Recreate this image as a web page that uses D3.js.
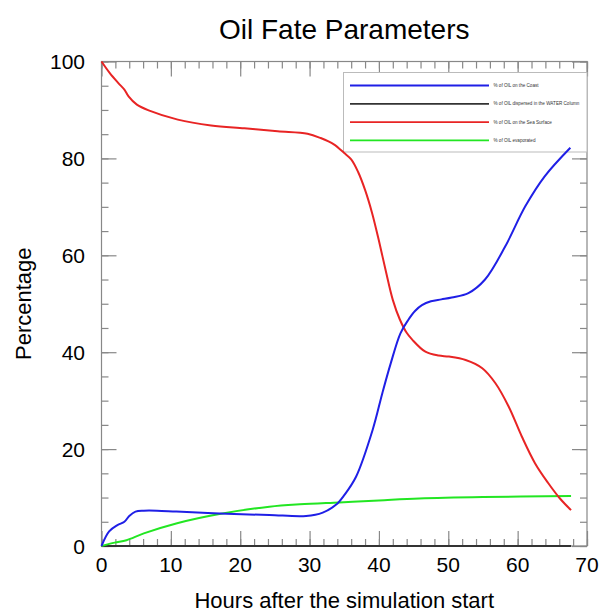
<!DOCTYPE html>
<html>
<head>
<meta charset="utf-8">
<script src="https://cdn.jsdelivr.net/npm/d3@7"></script>
<style>
  body { margin: 0; background: #fff; }
  text { font-family: "Liberation Sans", Arial, sans-serif; }
</style>
</head>
<body>
<div id="chart"></div>
<script>
// series: [hours, percent]
var coastData = [[0,0],[1.1,3.0],[2.3,4.3],[3.3,5.0],[4.0,6.2],[4.9,7.1],[6.1,7.3],[8,7.3],[10.8,7.1],
  [17,6.7],[24.2,6.4],[29.5,6.2],[31.9,6.9],[33.8,8.5],[35,10.5],[36.7,14.3],[39.1,24],[40.5,31.6],
  [41.7,37.7],[43.1,43.9],[44.2,46.6],[45.2,48.5],[46.2,49.7],[47.5,50.5],[49,50.9],[50.5,51.3],
  [52.9,52.2],[55.3,55],[58.2,61.8],[61.1,70.1],[63.9,76.3],[67.6,82.2]];
var waterData = [[0,0],[67.7,0]];
var surfaceData = [[0,100],[1.2,97.6],[2.4,95.6],[3.3,94.2],[3.9,92.8],[5.1,91.1],[6.8,89.9],[11,88],
  [15.8,86.8],[20.6,86.2],[25.4,85.6],[29.7,85.1],[31.6,84.2],[33.5,82.9],[35,81.1],[36,79.8],
  [37,77.2],[38,73.5],[39,68.8],[40,63],[41,56.7],[42,50.8],[43,46.8],[44,44],[44.8,42.6],[46.7,40.1],
  [48.6,39.3],[50.1,39.1],[52.5,38.4],[54.9,36.7],[56.8,33.6],[58.7,28.8],[60.6,22.6],[62.5,17.1],
  [64.4,13],[66.1,9.8],[67.7,7.4]];
var evapData = [[0,0],[1.9,0.7],[3.6,1.2],[6.1,2.6],[10.9,4.7],[17,6.6],[24.2,8.1],[28.6,8.6],
  [34.3,9.0],[40,9.4],[45.8,9.8],[55,10.1],[67.7,10.3]];

var seriesNames = ["% of OIL on the Coast", "% of OIL dispersed in the WATER Column",
  "% of OIL on the Sea Surface", "% of OIL evaporated"];
var seriesColors = ["#1f1fe6", "#333333", "#e82424", "#22e622"];
var xTicks = [0,10,20,30,40,50,60,70];
var yTicks = [0,20,40,60,80,100];

var W = 606, H = 614;
var pLeft = 101.5, pRight = 587, pTop = 61.5, pBottom = 546;

var svg = d3.select("#chart").append("svg").attr("width", W).attr("height", H);

var x = d3.scaleLinear().domain([0,70]).range([pLeft, pRight]);
var y = d3.scaleLinear().domain([0,100]).range([pBottom, pTop]);

// frame
svg.append("rect").attr("x", pLeft).attr("y", pTop)
  .attr("width", pRight-pLeft).attr("height", pBottom-pTop)
  .attr("fill", "none").attr("stroke", "#888").attr("stroke-width", 1.2);

// ticks pointing inward, on all four sides
function tickGroup(axis, tx, ty, size) {
  var g = svg.append("g").attr("transform", "translate(" + tx + "," + ty + ")")
    .call(axis.tickSize(size).tickFormat(""));
  g.select(".domain").remove();
  g.selectAll("line").attr("stroke", "#888").attr("stroke-width", 1.2);
}
var xMinor = d3.range(0, 70.1, 2), yMinor = d3.range(0, 100.1, 5);
tickGroup(d3.axisTop(x).tickValues(xTicks), 0, pBottom, 15);
tickGroup(d3.axisTop(x).tickValues(xMinor), 0, pBottom, 7);
tickGroup(d3.axisBottom(x).tickValues(xTicks), 0, pTop, 15);
tickGroup(d3.axisBottom(x).tickValues(xMinor), 0, pTop, 7);
tickGroup(d3.axisRight(y).tickValues(yTicks), pLeft, 0, 15);
tickGroup(d3.axisRight(y).tickValues(yMinor), pLeft, 0, 7);
tickGroup(d3.axisLeft(y).tickValues(yTicks), pRight, 0, 15);
tickGroup(d3.axisLeft(y).tickValues(yMinor), pRight, 0, 7);

// tick labels
svg.append("g").selectAll("text").data(xTicks).enter().append("text")
  .attr("x", function(d) { return x(d); }).attr("y", 572)
  .attr("text-anchor", "middle").attr("font-size", 21).text(function(d) { return d; });
svg.append("g").selectAll("text").data(yTicks).enter().append("text")
  .attr("x", 85).attr("y", function(d) { return y(d); }).attr("dy", "0.36em")
  .attr("text-anchor", "end").attr("font-size", 21).text(function(d) { return d; });

// legend
var lg = svg.append("g");
lg.append("rect").attr("x", 343.5).attr("y", 72.5).attr("width", pRight-343.5).attr("height", 79.5)
  .attr("fill", "#fff").attr("stroke", "#bbb").attr("stroke-width", 1);
seriesNames.forEach(function(n, i) {
  var yy = 85.5 + i*18.3;
  lg.append("line").attr("x1", 350).attr("x2", 489).attr("y1", yy).attr("y2", yy)
    .attr("stroke", seriesColors[i]).attr("stroke-width", 1.8);
  lg.append("text").attr("x", 493.5).attr("y", yy).attr("dy", "0.35em")
    .attr("font-size", 4.6).attr("fill", "#333").text(n);
});

// lines
var line = d3.line().x(function(d) { return x(d[0]); }).y(function(d) { return y(d[1]); })
  .curve(d3.curveCatmullRom.alpha(0.5));
var allSeries = [coastData, waterData, surfaceData, evapData];
[1, 3, 2, 0].forEach(function(i) {
  svg.append("path").datum(allSeries[i]).attr("d", line)
    .attr("fill", "none").attr("stroke", seriesColors[i]).attr("stroke-width", 2);
});

// titles
svg.append("text").attr("x", (pLeft+pRight)/2).attr("y", 39).attr("text-anchor", "middle")
  .attr("font-size", 28).text("Oil Fate Parameters");
svg.append("text").attr("x", (pLeft+pRight)/2).attr("y", 608).attr("text-anchor", "middle")
  .attr("font-size", 22).text("Hours after the simulation start");
svg.append("text").attr("transform", "translate(31," + ((pTop+pBottom)/2) + ") rotate(-90)")
  .attr("text-anchor", "middle").attr("font-size", 22).text("Percentage");
</script>
</body>
</html>
